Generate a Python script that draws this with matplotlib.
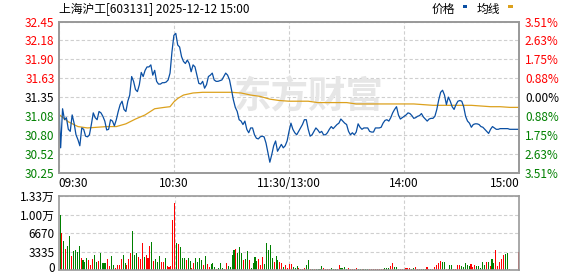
import numpy as np
import matplotlib
matplotlib.use('Agg')
import matplotlib.pyplot as plt
from matplotlib.patches import Rectangle

plt.rcParams['font.family'] = ['Noto Sans CJK SC', 'DejaVu Sans']

title = '上海沪工[603131] 2025-12-12 15:00'
prev_close = 31.35

# minute prices 09:30-11:30, 13:00-15:00 (241 points)
price = [
    31.29, 30.61, 31.18, 31.02, 31.05, 30.88, 30.85, 31.09, 30.97, 30.80,
    30.73, 30.64, 30.90, 30.88, 30.78, 30.77, 30.80, 30.95, 31.12, 31.05,
    31.02, 31.14, 31.12, 31.07, 31.00, 30.87, 30.88, 31.02, 31.00, 30.93,
    31.02, 31.14, 31.24, 31.29, 31.17, 31.14, 31.29, 31.38, 31.65, 31.58,
    31.46, 31.43, 31.53, 31.71, 31.65, 31.74, 31.79, 31.79, 31.82, 31.67,
    31.74, 31.58, 31.54, 31.54, 31.56, 31.56, 31.57, 31.60, 31.70, 32.01,
    32.25, 32.28, 32.11, 32.08, 31.94, 31.87, 31.84, 31.89, 31.84, 31.72,
    31.82, 31.79, 31.67, 31.55, 31.54, 31.58, 31.48, 31.53, 31.65, 31.67,
    31.70, 31.60, 31.58, 31.58, 31.59, 31.60, 31.65, 31.70, 31.67, 31.60,
    31.46, 31.31, 31.20, 31.14, 31.02, 31.00, 30.95, 31.00, 30.88, 30.83,
    30.90, 30.90, 30.80, 30.75, 30.74, 30.77, 30.78, 30.77, 30.68, 30.54,
    30.40, 30.51, 30.64, 30.71, 30.56, 30.61, 30.66, 30.61, 30.64, 30.71,
    30.85, 30.97, 30.88, 30.83, 30.80, 30.85, 30.90, 30.95, 31.02, 31.02,
    30.88, 30.78, 30.80, 30.85, 30.90, 30.87, 30.83, 30.85, 30.80, 30.80,
    30.83, 30.88, 30.92, 30.89, 30.92, 30.95, 30.97, 31.03, 31.00, 30.97,
    30.95, 30.85, 30.80, 30.83, 30.80, 30.84, 30.96, 30.91, 30.88, 30.90,
    30.90, 30.90, 30.85, 30.84, 30.84, 30.90, 30.90, 30.90, 30.91, 30.97,
    31.01, 31.02, 31.00, 31.05, 31.12, 31.17, 31.21, 31.09, 31.03, 31.05,
    31.07, 31.09, 31.12, 31.11, 31.08, 31.04, 31.05, 31.07, 31.08, 31.11,
    31.06, 31.03, 31.00, 31.03, 31.04, 31.04, 31.07, 31.17, 31.31, 31.42,
    31.45, 31.38, 31.24, 31.35, 31.29, 31.21, 31.17, 31.24, 31.29, 31.30,
    31.29, 31.21, 31.07, 31.00, 30.97, 30.91, 30.95, 30.96, 30.96, 30.95,
    30.92, 30.91, 30.88, 30.85, 30.82, 30.88, 30.92, 30.90, 30.88, 30.88,
    30.89, 30.89, 30.89, 30.89, 30.89, 30.88, 30.88, 30.88, 30.88, 30.88,
    30.88,
]

# average price line, read at these minutes
avg_minutes = [0, 5, 10, 15, 20, 25, 30, 35, 40, 45, 50, 55, 58, 60, 62,
               65, 70, 75, 80, 85, 90, 95, 100, 105, 110, 115, 120, 125, 130,
               135, 140, 145, 150, 155, 160, 165, 170, 175, 180, 185, 190,
               195, 200, 205, 210, 215, 220, 225, 230, 235, 240]
avg_price = [31.10, 30.99, 30.92, 30.90, 30.91, 30.92, 30.92, 30.96, 31.03,
             31.09, 31.18, 31.20, 31.21, 31.28, 31.33, 31.38, 31.41, 31.42,
             31.42, 31.42, 31.42, 31.41, 31.38, 31.36, 31.32, 31.30, 31.29,
             31.29, 31.29, 31.27, 31.27, 31.27, 31.27, 31.25, 31.25, 31.25,
             31.25, 31.25, 31.25, 31.25, 31.24, 31.23, 31.23, 31.23, 31.23,
             31.23, 31.22, 31.21, 31.21, 31.20, 31.20]

# volume per minute and direction (1 = up/red, 0 = down/green)
volume = [
    9900, 6780, 5220, 3780, 4320, 6120, 2520, 3360, 3600, 3300,
    4320, 2100, 1800, 1440, 2160, 1800, 900, 1980, 2700, 1380,
    1620, 3000, 1200, 1260, 1260, 1980, 720, 2520, 900, 360,
    900, 900, 1980, 2700, 1260, 900, 1980, 3060, 7020, 2700,
    3060, 2340, 1980, 4860, 2340, 2700, 2160, 4320, 5040, 1620,
    1980, 1440, 2520, 1440, 1440, 2160, 720, 540, 720, 9000,
    12180, 4980, 4680, 4200, 2160, 2160, 1800, 2160, 1620, 360,
    1260, 2160, 1440, 2160, 1800, 900, 2520, 1080, 540, 1080,
    1260, 540, 180, 360, 1260, 360, 180, 1260, 720, 540,
    2700, 3600, 3780, 3060, 4140, 3060, 1800, 1980, 3420, 1800,
    360, 1260, 2340, 1620, 1980, 900, 2340, 1080, 4860, 3600,
    4500, 2160, 1440, 2520, 1800, 1440, 1260, 540, 900, 360,
    1080, 1080, 540, 360, 720, 360, 180, 180, 360, 900,
    1800, 180, 180, 180, 180, 180, 180, 720, 360, 180,
    180, 180, 360, 180, 180, 180, 900, 360, 360, 540,
    180, 360, 180, 180, 180, 360, 180, 180, 180, 180,
    180, 180, 180, 180, 180, 180, 180, 180, 180, 180,
    360, 360, 360, 720, 1260, 540, 540, 180, 180, 180,
    180, 360, 360, 360, 180, 360, 540, 180, 180, 180,
    180, 180, 540, 180, 180, 180, 540, 900, 1260, 1620,
    1440, 1440, 180, 180, 900, 900, 180, 180, 900, 900,
    720, 540, 1260, 900, 720, 1080, 540, 900, 720, 720,
    360, 1440, 900, 1440, 1440, 720, 1980, 1260, 3600, 720,
    1440, 1980, 2700, 2880, 3060, 180, 0, 0, 0, 0,
    3240,
]
vol_up = [
    0, 1, 0, 1, 0, 0, 1, 0, 0, 0,
    0, 1, 0, 0, 0, 1, 1, 1, 0, 0,
    1, 0, 0, 0, 0, 1, 1, 0, 0, 1,
    1, 1, 1, 0, 0, 1, 1, 1, 0, 0,
    0, 1, 1, 1, 0, 1, 1, 1, 0, 1,
    0, 0, 0, 1, 1, 0, 1, 1, 1, 1,
    1, 0, 1, 0, 0, 0, 1, 0, 0, 1,
    1, 0, 0, 0, 0, 1, 0, 1, 1, 0,
    0, 0, 1, 0, 0, 0, 1, 1, 0, 0,
    0, 0, 1, 0, 0, 0, 1, 0, 0, 1,
    0, 0, 0, 0, 1, 1, 1, 0, 0, 0,
    0, 0, 1, 0, 0, 1, 1, 0, 1, 1,
    1, 1, 0, 0, 0, 1, 1, 1, 1, 0,
    0, 1, 0, 1, 0, 0, 0, 0, 1, 1,
    1, 1, 0, 0, 0, 1, 1, 0, 0, 0,
    0, 1, 1, 1, 1, 1, 0, 0, 1, 0,
    0, 0, 1, 1, 1, 1, 1, 1, 1, 1,
    0, 0, 0, 1, 1, 0, 0, 1, 1, 1,
    1, 1, 1, 1, 0, 0, 1, 1, 1, 0,
    0, 0, 1, 1, 0, 1, 1, 1, 1, 1,
    0, 0, 1, 1, 0, 0, 1, 1, 1, 1,
    0, 0, 0, 0, 0, 1, 1, 1, 0, 0,
    0, 0, 0, 1, 0, 1, 0, 0, 1, 1,
    1, 1, 1, 0, 0, 1, 1, 1, 1, 1,
    1,
]

price_ticks = [30.25, 30.52, 30.80, 31.08, 31.35, 31.63, 31.90, 32.18, 32.45]
pct_labels = ['3.51%', '2.63%', '1.75%', '0.88%', '0.00%',
              '0.88%', '1.75%', '2.63%', '3.51%']
time_ticks = [0, 60, 120, 180, 240]
time_labels = ['09:30', '10:30', '11:30/13:00', '14:00', '15:00']
vol_ticks = [0, 3335, 6670, 10005, 13340]
vol_labels = ['0', '3335', '6670', '1.00万', '1.33万']

RED = '#ff0000'
GREEN = '#008000'
GRID = '#cfcfcf'
BORDER = '#999999'
fs = 8.5

fig = plt.figure(figsize=(5.78, 2.76), dpi=100)

# --- price panel
ax = fig.add_axes([0.1016, 0.375, 0.7969, 0.5464])
ax.text(0.38, 0.5, '东方财富', transform=ax.transAxes, fontsize=27,
        fontweight='bold', color='#e6e6e6', ha='left', va='center',
        zorder=0.6)
minutes = np.arange(len(price))
ax.plot(avg_minutes, avg_price, color='#dca11d', lw=0.9, zorder=3)
ax.plot(minutes, price, color='#0a4fa3', lw=0.9, zorder=4)
ax.set_xlim(0, 240)
ax.set_ylim(price_ticks[0], price_ticks[-1])
ax.set_yticks(price_ticks)
ax.set_yticklabels(['%.2f' % t for t in price_ticks], fontsize=fs)
ax.set_xticks(time_ticks)
ax.set_xticklabels(time_labels, fontsize=fs)
ax.tick_params(length=0, pad=3)
ax.grid(True, ls=(0, (3, 2)), color=GRID, lw=0.8)
ax.set_axisbelow(True)

def tick_color(v):
    if abs(v - prev_close) < 0.005:
        return 'black'
    return RED if v > prev_close else GREEN

for lbl, v in zip(ax.get_yticklabels(), price_ticks):
    lbl.set_color(tick_color(v))
xl = ax.get_xticklabels()
xl[0].set_ha('left')
xl[-1].set_ha('right')

axr = ax.twinx()
axr.set_ylim(price_ticks[0], price_ticks[-1])
axr.set_yticks(price_ticks)
axr.set_yticklabels(pct_labels, fontsize=fs)
axr.tick_params(length=0, pad=4)
for lbl, v in zip(axr.get_yticklabels(), price_ticks):
    lbl.set_color(tick_color(v))

for a in (ax, axr):
    for s in a.spines.values():
        s.set_color(BORDER)
        s.set_linewidth(1.2)

# --- volume panel
axv = fig.add_axes([0.1016, 0.0217, 0.7969, 0.2670])
bar_colors = [RED if u else GREEN for u in vol_up]
axv.bar(minutes, volume, width=0.55, color=bar_colors, linewidth=0)
axv.set_xlim(-0.7, 240.3)
axv.set_ylim(vol_ticks[0], vol_ticks[-1])
axv.set_yticks(vol_ticks)
# the bottom "0" is drawn by hand so it stays inside the figure
axv.set_yticklabels([''] + vol_labels[1:], fontsize=fs)
axv.set_xticks([60, 120, 180])
axv.set_xticklabels([])
axv.tick_params(length=0, pad=3)
axv.grid(True, ls=(0, (3, 2)), color=GRID, lw=0.8)
axv.set_axisbelow(True)
for s in axv.spines.values():
    s.set_color(BORDER)
    s.set_linewidth(1.2)
fig.text(55 / 578, 8 / 276, vol_labels[0], fontsize=fs, ha='right', va='center',
         color='black')

# title and legend
fig.text(59 / 578, 1 - 9 / 276, title, fontsize=fs, ha='left', va='center')
fig.text(432 / 578, 1 - 9 / 276, '价格', fontsize=fs, ha='left', va='center')
fig.text(477 / 578, 1 - 9 / 276, '均线', fontsize=fs, ha='left', va='center')
fig.add_artist(Rectangle((463 / 578, 1 - 7.5 / 276), 4.5 / 578, 2.5 / 276,
                         transform=fig.transFigure, color='#0a4fa3', lw=0))
fig.add_artist(Rectangle((508 / 578, 1 - 7.5 / 276), 4.5 / 578, 2.5 / 276,
                         transform=fig.transFigure, color='#dca11d', lw=0))

fig.savefig('out.png', dpi=100, facecolor='white')
